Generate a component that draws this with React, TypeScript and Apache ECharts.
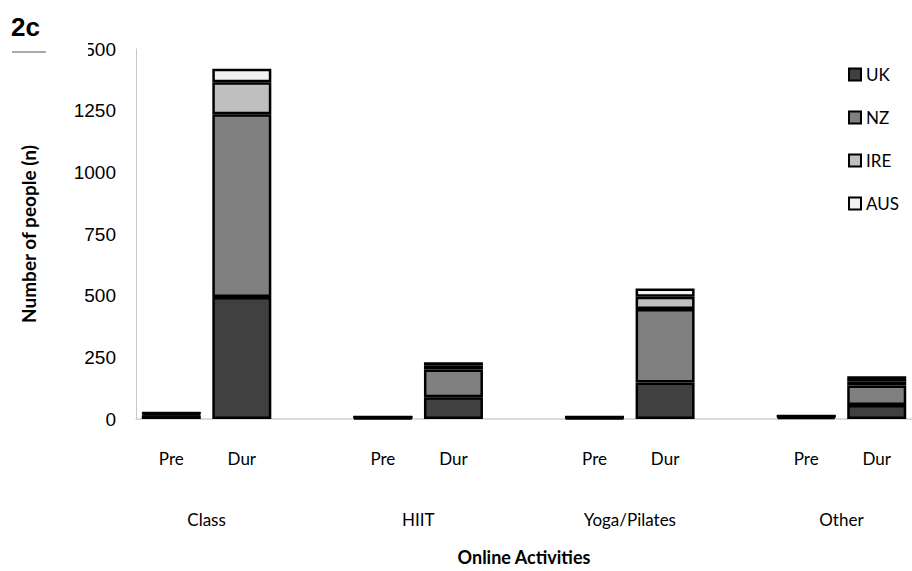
import React, { useEffect, useRef } from "react";
import * as echarts from "echarts";

const categories = ["Pre", "Dur", "", "Pre", "Dur", "", "Pre", "Dur", "", "Pre", "Dur"];
const groupLabels = ["Class", "HIIT", "Yoga/Pilates", "Other"];
const groupPositions = [1, 4, 7, 10];
const seriesNames = ["UK", "NZ", "IRE", "AUS"];
const ukValues = [15, 495, null, 5, 88, null, 5, 148, null, 8, 57];
const nzValues = [7, 740, null, 2, 113, null, 2, 298, null, 3, 79];
const ireValues = [2, 130, null, 1, 15, null, 1, 50, null, 1, 17];
const ausValues = [1, 55, null, 0, 14, null, 1, 33, null, 1, 20];
const seriesColors = ["#404040", "#808080", "#bfbfbf", "#f2f2f2"];
const yTicks = { min: 0, max: 1500, interval: 250 };

const calibri = "Lato, 'Open Sans', sans-serif";
const arial = "'Liberation Sans', Arial, sans-serif";

export default function App() {
  const ref = useRef<HTMLDivElement>(null);
  useEffect(() => {
    document.body.style.margin = "0";
    if (!ref.current) return;
    const chart = echarts.init(ref.current, null, { renderer: "svg" });
    const allValues = [ukValues, nzValues, ireValues, ausValues];
    chart.setOption({
      animation: false,
      backgroundColor: "#ffffff",
      grid: { left: 136, top: 49, width: 784, height: 378 },
      legend: {
        orient: "vertical",
        left: 843,
        top: 61,
        itemWidth: 12,
        itemHeight: 12,
        itemGap: 26,
        icon: "rect",
        textStyle: { fontFamily: calibri, fontSize: 17, color: "#000" },
        itemStyle: { borderColor: "#000", borderWidth: 2 },
        data: seriesNames,
      },
      xAxis: [
        {
          type: "category",
          data: categories,
          position: "bottom",
          axisLine: { show: true, lineStyle: { color: "#d0d0d0", width: 1.5 } },
          axisTick: { show: false },
          axisLabel: {
            interval: 0,
            margin: 31,
            fontFamily: calibri,
            fontSize: 17,
            color: "#000",
          },
        },
        {
          type: "value",
          min: 0,
          max: 11,
          position: "bottom",
          offset: 84,
          axisLine: { show: false },
          axisTick: { show: false },
          splitLine: { show: false },
          axisLabel: {
            customValues: groupPositions,
            formatter: (v: number) => groupLabels[groupPositions.indexOf(v)] ?? "",
            fontFamily: calibri,
            fontSize: 17,
            color: "#000",
          },
          name: "Online Activities",
          nameLocation: "middle",
          nameGap: 45,
          nameTextStyle: { fontFamily: calibri, fontSize: 18, fontWeight: "bold", color: "#000" },
        },
      ],
      yAxis: {
        type: "value",
        min: yTicks.min,
        max: yTicks.max,
        interval: yTicks.interval,
        axisLine: { show: true, lineStyle: { color: "#c8c8c8", width: 1 } },
        axisTick: { show: false },
        splitLine: { show: false },
        axisLabel: {
          margin: 20,
          fontFamily: arial,
          fontSize: 19,
          color: "#000",
          formatter: (v: number) => String(v),
        },
        name: "Number of people (n)",
        nameLocation: "middle",
        nameGap: 98,
        nameTextStyle: { fontFamily: calibri, fontSize: 19, fontWeight: "bold", color: "#000" },
      },
      series: seriesNames.map((name, i) => ({
        name,
        type: "bar",
        stack: "total",
        xAxisIndex: 0,
        barWidth: 59,
        data: allValues[i],
        itemStyle: { color: seriesColors[i], borderColor: "#000", borderWidth: 2.5 },
      })),
      graphic: [
        { type: "rect", z: 100, shape: { x: 0, y: 38, width: 88, height: 24 }, style: { fill: "#fff" } },
        {
          type: "text",
          z: 101,
          x: 11,
          y: 14,
          style: { text: "2c", font: "bold 26px 'Liberation Sans', Arial, sans-serif", fill: "#000" },
        },
        {
          type: "line",
          z: 101,
          shape: { x1: 12, y1: 52, x2: 46, y2: 52 },
          style: { stroke: "#555", lineWidth: 1 },
        },
      ],
    });
    return () => chart.dispose();
  }, []);
  return <div ref={ref} style={{ width: 912, height: 571 }} />;
}
